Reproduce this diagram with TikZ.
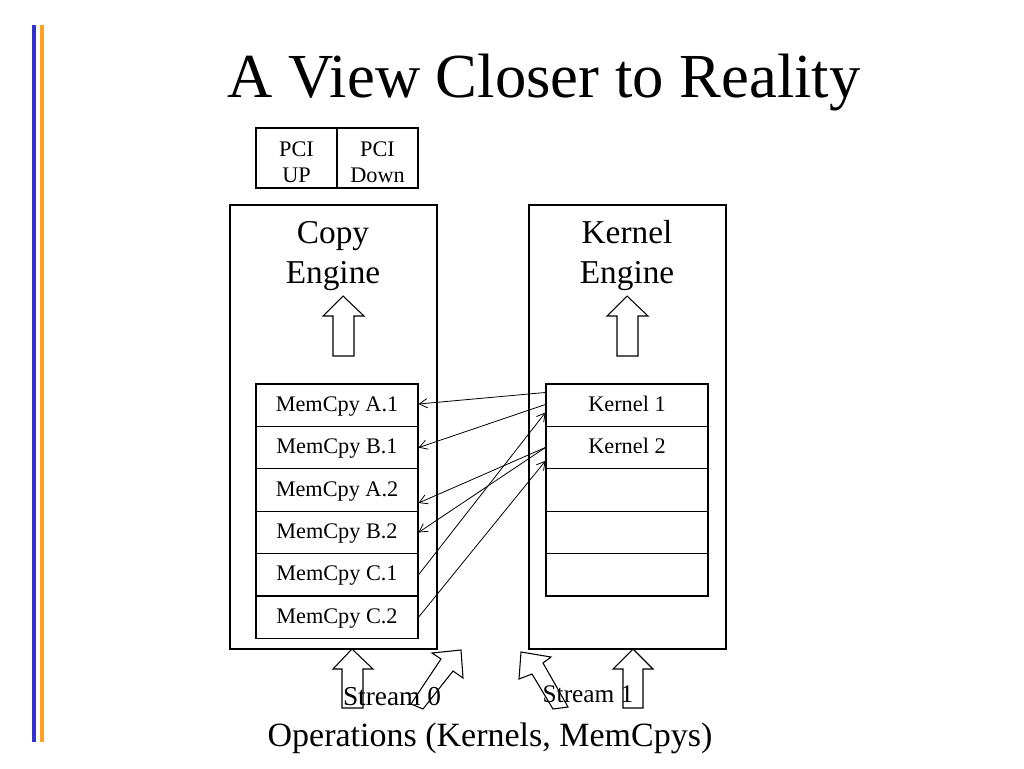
\documentclass[tikz,border=0pt]{standalone}
\usepackage{fontspec}
\setmainfont{Liberation Serif}
\usetikzlibrary{arrows.meta}
\definecolor{barblue}{RGB}{51,51,204}
\definecolor{barorange}{RGB}{255,160,32}
\newcommand{\pcistrut}{\rule{0pt}{17.5pt}}
\tikzset{
  box/.style={draw, line width=0.8pt, inner sep=0pt},
  row/.style={box, minimum width=121.5pt, minimum height=31.8pt, text height=12pt, text depth=3pt, font=\fontsize{16.7}{20}\selectfont},
  pci/.style={box, minimum width=60.75pt, minimum height=45pt, align=center, font=\fontsize{16.7}{20}\selectfont},
  engine/.style={box, minimum height=333pt},
  enginelabel/.style={align=center, inner sep=0pt, font=\fontsize{25}{30}\selectfont},
  blockarrow/.style={draw, line width=0.8pt, fill=white, line join=miter},
  link/.style={line width=0.6pt, -{Straight Barb[length=6pt,width=7pt]}},
}
\begin{document}
\begin{tikzpicture}[x=0.75pt,y=-0.75pt]
\useasboundingbox (0,0) rectangle (1024,768);
% side bars
\fill[barblue] (32,25) rectangle (36,742);
\fill[barorange] (40,25) rectangle (44,742);
% title
\node[anchor=base, inner sep=0pt, font=\fontsize{47}{56}\selectfont] (title) at (544,97) {A View Closer to Reality};
% PCI
\node[pci] (pciup) at (296.5,158) {\pcistrut PCI\\UP};
\node[pci] (pcidown) at (377.5,158) {\pcistrut PCI\\Down};
% engines
\node[engine, minimum width=155.25pt] (copy) at (333.5,427) {};
\node[engine, minimum width=147.75pt] (kern) at (627.5,427) {};
\node[enginelabel] (copylab) at (333,256) {Copy\\Engine};
\node[enginelabel] (kernlab) at (627,256) {Kernel\\Engine};
% up arrows inside engines
\draw[blockarrow] (333,356) -- (333,316) -- (323,316) -- (343,296) -- (364,316) -- (354,316) -- (354,356) -- cycle;
\draw[blockarrow] (617,356) -- (617,316) -- (607,316) -- (627,296) -- (648,316) -- (638,316) -- (638,356) -- cycle;
% memcpy rows
\node[row] (a1) at (337,405.2) {MemCpy A.1};
\node[row] (b1) at (337,447.6) {MemCpy B.1};
\node[row] (a2) at (337,490.0) {MemCpy A.2};
\node[row] (b2) at (337,532.4) {MemCpy B.2};
\node[row] (c1) at (337,574.8) {MemCpy C.1};
\node[row] (c2) at (337,617.2) {MemCpy C.2};
% kernel rows
\node[row] (k1) at (627,405.2) {Kernel 1};
\node[row] (k2) at (627,447.6) {Kernel 2};
\node[row] (k3) at (627,490.0) {};
\node[row] (k4) at (627,532.4) {};
\node[row] (k5) at (627,574.8) {};
% links
\draw[link] ([yshift=-6.75pt]k1.north west) -- ([yshift=0.9pt]a1.east);
\draw[link] ([yshift=-15.75pt]k1.north west) -- (b1.east);
\draw[link] ([yshift=-16.2pt]k2.north west) -- ([yshift=-9.75pt]a2.east);
\draw[link] ([yshift=-16.2pt]k2.north west) -- (b2.east);
\draw[link] (c1.east) -- ([yshift=-21.75pt]k1.north west);
\draw[link] (c2.east) -- ([yshift=-26.25pt]k2.north west);
% bottom block arrows
\draw[blockarrow] (342,708) -- (342,669) -- (333,669) -- (352,649) -- (373,669) -- (363,669) -- (363,708) -- cycle;
\draw[blockarrow] (411,704) -- (441,659) -- (432,653) -- (461,650) -- (463,678) -- (453,671) -- (423,709) -- cycle;
\draw[blockarrow] (553,709) -- (532,674) -- (519,679) -- (521,652) -- (551,657) -- (543,663) -- (568,707) -- cycle;
\draw[blockarrow] (623,708) -- (623,669) -- (613,669) -- (633,649) -- (653,669) -- (643,669) -- (643,708) -- cycle;
% labels
\node[anchor=base, inner sep=0pt, font=\fontsize{20.5}{24}\selectfont] (s0) at (392,705) {Stream 0};
\node[anchor=base, inner sep=0pt, font=\fontsize{19}{23}\selectfont] (s1) at (588,702) {Stream 1};
\node[anchor=base, inner sep=0pt, font=\fontsize{25.5}{30}\selectfont] (ops) at (490,746) {Operations (Kernels, MemCpys)};
\end{tikzpicture}
\end{document}
